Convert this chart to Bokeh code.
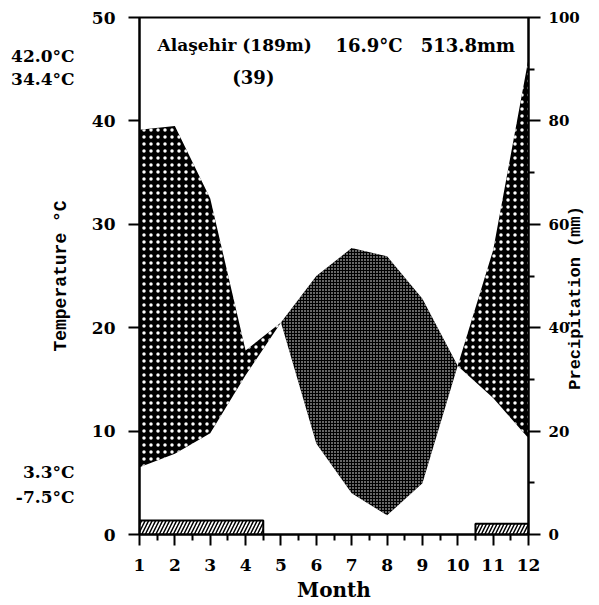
import numpy as np
from bokeh.plotting import figure
from bokeh.models import Range1d, LinearAxis, FixedTicker, Label
from bokeh.embed import file_html
from bokeh.resources import INLINE

# ---- data ----
months = [1, 2, 3, 4, 5, 6, 7, 8, 9, 10, 11, 12]
temp_c = [6.5, 7.8, 9.8, 15.4, 20.5, 25.0, 27.7, 26.9, 22.8, 16.3, 13.2, 9.3]
precip_mm = [78.3, 79.0, 65.0, 35.6, 41.0, 17.6, 8.0, 3.7, 9.9, 32.7, 55.0, 92.0]
frost_left = [1.0, 10.5]
frost_right = [4.5, 12.0]
frost_top = [1.35, 1.05]
temp_ticks = [0, 10, 20, 30, 40, 50]
precip_ticks = [0, 20, 40, 60, 80, 100]
precip_minor = [10, 30, 50, 70, 90]
station = "Alaşehir (189m)"
mean_temp_text = "16.9°C"
annual_precip_text = "513.8mm"
years_text = "(39)"
extremes_text = ["42.0°C", "34.4°C", "3.3°C", "-7.5°C"]
extremes_pos = [46.3, 44.1, 6.0, 3.6]   # vertical placement of the side notes
precip_title = "Precipitation (mm)"
precip_title_start = 28.0               # where the rotated right title begins (mm scale)

FONT = "DejaVu Serif"
TITLE_FONT = "Liberation Mono"

# Walter-Lieth scaling: 10 °C corresponds to 20 mm
t = np.array(temp_c, dtype=float)
s = np.array(precip_mm, dtype=float) / 2.0
m = np.array(months, dtype=float)

xs, ts, ss = [], [], []
for i in range(len(m) - 1):
    xs.append(m[i]); ts.append(t[i]); ss.append(s[i])
    d0 = s[i] - t[i]
    d1 = s[i + 1] - t[i + 1]
    if d0 * d1 < 0:
        f = d0 / (d0 - d1)
        xc = m[i] + f
        yc = t[i] + f * (t[i + 1] - t[i])
        xs.append(xc); ts.append(yc); ss.append(yc)
xs.append(m[-1]); ts.append(t[-1]); ss.append(s[-1])
xs = np.array(xs); ts = np.array(ts); ss = np.array(ss)

p = figure(width=599, height=605, x_range=Range1d(1, 12), y_range=Range1d(0, 50),
           output_backend="svg", toolbar_location=None,
           min_border_left=139, min_border_right=71, min_border_top=17, min_border_bottom=71)
p.background_fill_color = "white"
p.border_fill_color = "white"
p.grid.visible = False
p.outline_line_color = "black"
p.outline_line_width = 2
p.extra_y_ranges = {"precip": Range1d(0, 100)}

# humid season (precipitation above temperature)
p.varea(x=xs, y1=ts, y2=np.maximum(ts, ss), fill_color="black",
        hatch_pattern=".", hatch_color="white", hatch_scale=7, hatch_weight=1)
# arid season (temperature above precipitation)
p.varea(x=xs, y1=np.minimum(ts, ss), y2=ts, fill_color="black",
        hatch_pattern=".", hatch_color="white", hatch_scale=3, hatch_weight=1)

# frost bars
p.quad(left=frost_left, right=frost_right, bottom=[0, 0], top=frost_top,
       fill_color="white", line_color="black", line_width=2,
       hatch_pattern="/", hatch_color="black", hatch_scale=7, hatch_weight=1.5)

def style_axis(ax, size="17px"):
    ax.axis_line_width = 2
    ax.major_tick_line_width = 2
    ax.minor_tick_line_width = 2
    ax.major_tick_in = 0
    ax.minor_tick_in = 0
    ax.major_label_text_font = FONT
    ax.major_label_text_font_style = "bold"
    ax.major_label_text_font_size = size
    ax.major_label_text_color = "black"
    ax.axis_label_text_font = FONT
    ax.axis_label_text_font_style = "bold"
    ax.axis_label_text_color = "black"

# x axis
xa = p.xaxis[0]
xa.ticker = FixedTicker(ticks=months, minor_ticks=[v + 0.5 for v in months[:-1]])
style_axis(xa)
xa.major_tick_out = 11
xa.minor_tick_out = 6
xa.major_label_standoff = 13
xa.axis_label = "Month"
xa.axis_label_text_font_size = "20px"
xa.axis_label_standoff = 4

# left axis (temperature)
ya = p.yaxis[0]
ya.ticker = FixedTicker(ticks=temp_ticks, minor_ticks=[])
style_axis(ya)
ya.major_tick_out = 11
ya.major_label_standoff = 13
ya.axis_label = "Temperature °C"
ya.axis_label_text_font = TITLE_FONT
ya.axis_label_text_font_size = "18px"
ya.axis_label_standoff = 18

# side notes with temperature extremes (a tick-less axis carrying only text)
ea = LinearAxis(ticker=FixedTicker(ticks=extremes_pos, minor_ticks=[]),
                major_label_overrides={v: tx for v, tx in zip(extremes_pos, extremes_text)})
style_axis(ea)
ea.axis_line_color = None
ea.major_tick_line_color = None
ea.major_tick_out = 0
ea.major_label_standoff = -27
p.add_layout(ea, "left")

# right axis (precipitation)
ra = LinearAxis(y_range_name="precip")
ra.ticker = FixedTicker(ticks=precip_ticks, minor_ticks=precip_minor)
style_axis(ra, "15px")
ra.major_tick_out = 12
ra.minor_tick_out = 6
ra.major_label_standoff = 8
p.add_layout(ra, "right")

# right-hand title, read bottom to top (a tick-less axis carrying only the title)
ta = LinearAxis(y_range_name="precip",
                ticker=FixedTicker(ticks=[precip_title_start], minor_ticks=[]),
                major_label_overrides={precip_title_start: precip_title})
style_axis(ta)
ta.axis_line_color = None
ta.major_tick_line_color = None
ta.major_tick_out = 0
ta.major_label_text_font = TITLE_FONT
ta.major_label_text_font_size = "17px"
ta.major_label_orientation = float(np.pi / 2)
ta.major_label_standoff = -7
p.add_layout(ta, "right")

def lab(text, x, y, size="18px", align="left"):
    p.add_layout(Label(x=x, y=y, text=text, text_font=FONT, text_font_style="bold",
                       text_font_size=size, text_align=align, text_baseline="middle",
                       text_color="black"))

# header
lab(station, 1.51, 47.3, "17px")
lab(mean_temp_text, 6.54, 47.3)
lab(annual_precip_text, 8.95, 47.3)
lab(years_text, 4.22, 44.2, align="center")

open("out.html", "w").write(file_html(p, INLINE))
